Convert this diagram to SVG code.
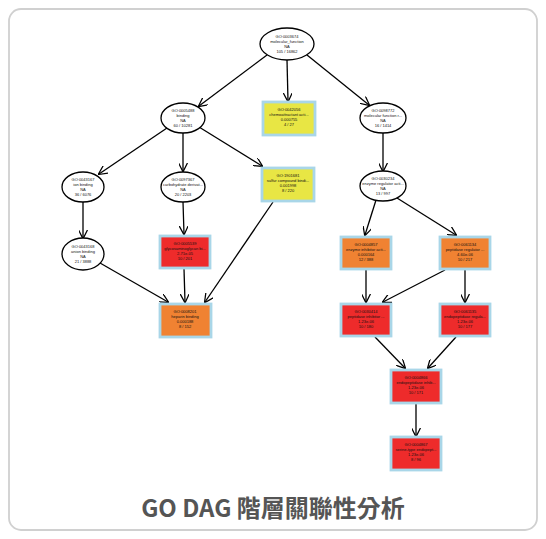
<svg xmlns="http://www.w3.org/2000/svg" width="546" height="539" viewBox="0 0 546 539">
<style>
.card{fill:#fff;stroke:#d0d0d0;stroke-width:1.8}
.ell{fill:#fff;stroke:#000;stroke-width:1.3}
.box{stroke:#a9d6e8;stroke-width:2.8}
.y{fill:#e8e644}
.o{fill:#f08232}
.r{fill:#ee2b2b}
.t{font-family:"Liberation Sans",Arial,sans-serif;font-size:4px;fill:#111;text-anchor:middle}
.e{stroke:#000;stroke-width:1.3;fill:none;marker-end:url(#ah)}
.title{font-family:"Noto Sans CJK TC","Noto Sans",sans-serif;font-size:24px;font-weight:bold;fill:#555;text-anchor:middle}
</style>
<defs>
<marker id="ah" viewBox="0 0 10 10" refX="9" refY="5" markerWidth="9" markerHeight="9" markerUnits="userSpaceOnUse" orient="auto">
<path d="M0,0 L10,5 L0,10" fill="none" stroke="#000" stroke-width="1.4"/>
</marker>
</defs>
<rect class="card" x="9" y="9" width="528" height="521" rx="12"/>
<g id="edges">
<line class="e" x1="267" y1="55" x2="199" y2="106"/>
<line class="e" x1="287" y1="60" x2="288" y2="101"/>
<line class="e" x1="307" y1="55" x2="369" y2="105"/>
<line class="e" x1="167" y1="128" x2="99" y2="174"/>
<line class="e" x1="183" y1="133" x2="183" y2="171"/>
<line class="e" x1="199" y1="127" x2="262" y2="166"/>
<line class="e" x1="383" y1="133" x2="383" y2="171"/>
<line class="e" x1="83" y1="202" x2="83" y2="238"/>
<line class="e" x1="183" y1="202" x2="184" y2="234"/>
<line class="e" x1="273" y1="202" x2="205" y2="302"/>
<line class="e" x1="376" y1="200" x2="365" y2="235"/>
<line class="e" x1="397" y1="198" x2="456" y2="235"/>
<line class="e" x1="100" y1="263" x2="168" y2="302"/>
<line class="e" x1="184" y1="269" x2="185" y2="302"/>
<line class="e" x1="366" y1="270" x2="366" y2="302"/>
<line class="e" x1="445" y1="270" x2="383" y2="302"/>
<line class="e" x1="465" y1="270" x2="465" y2="302"/>
<line class="e" x1="375" y1="337" x2="405" y2="368"/>
<line class="e" x1="456" y1="337" x2="428" y2="368"/>
<line class="e" x1="416" y1="403" x2="416" y2="436"/>
</g>
<g id="n_root"><ellipse class="ell" cx="287" cy="44" rx="27" ry="16"/>
<text class="t"><tspan x="287" y="38">GO:0003674</tspan><tspan x="287" y="43">molecular_function</tspan><tspan x="287" y="48">NA</tspan><tspan x="287" y="53">105 / 16862</tspan></text></g>
<g id="n_binding"><ellipse class="ell" cx="183" cy="118" rx="22" ry="15"/>
<text class="t"><tspan x="183" y="112">GO:0005488</tspan><tspan x="183" y="117">binding</tspan><tspan x="183" y="122">NA</tspan><tspan x="183" y="127">60 / 10281</tspan></text></g>
<g id="n_chemo"><rect class="box y" x="263" y="102" width="52" height="33"/>
<text class="t"><tspan x="289" y="111">GO:0042056</tspan><tspan x="289" y="116">chemoattractant acti...</tspan><tspan x="289" y="121">0.000755</tspan><tspan x="289" y="126">4 / 27</tspan></text></g>
<g id="n_mfr"><ellipse class="ell" cx="383" cy="118" rx="23" ry="15"/>
<text class="t"><tspan x="383" y="112">GO:0098772</tspan><tspan x="383" y="117">molecular function r...</tspan><tspan x="383" y="122">NA</tspan><tspan x="383" y="127">16 / 1414</tspan></text></g>
<g id="n_ion"><ellipse class="ell" cx="83" cy="187" rx="21" ry="15"/>
<text class="t"><tspan x="83" y="181">GO:0043167</tspan><tspan x="83" y="186">ion binding</tspan><tspan x="83" y="191">NA</tspan><tspan x="83" y="196">36 / 6076</tspan></text></g>
<g id="n_carb"><ellipse class="ell" cx="183" cy="187" rx="22" ry="15"/>
<text class="t"><tspan x="183" y="181">GO:0097367</tspan><tspan x="183" y="186">carbohydrate derivat...</tspan><tspan x="183" y="191">NA</tspan><tspan x="183" y="196">20 / 2203</tspan></text></g>
<g id="n_sulfur"><rect class="box y" x="262" y="168" width="52" height="33"/>
<text class="t"><tspan x="288" y="177">GO:1901681</tspan><tspan x="288" y="182">sulfur compound bindi...</tspan><tspan x="288" y="187">0.001998</tspan><tspan x="288" y="192">8 / 220</tspan></text></g>
<g id="n_enzreg"><ellipse class="ell" cx="383" cy="186" rx="23" ry="15"/>
<text class="t"><tspan x="383" y="180">GO:0030234</tspan><tspan x="383" y="185">enzyme regulator acti...</tspan><tspan x="383" y="190">NA</tspan><tspan x="383" y="195">13 / 997</tspan></text></g>
<g id="n_anion"><ellipse class="ell" cx="83" cy="254" rx="21" ry="16"/>
<text class="t"><tspan x="83" y="248">GO:0043168</tspan><tspan x="83" y="253">anion binding</tspan><tspan x="83" y="258">NA</tspan><tspan x="83" y="263">21 / 3888</tspan></text></g>
<g id="n_glyco"><rect class="box r" x="160" y="236" width="50" height="32"/>
<text class="t"><tspan x="185" y="245">GO:0005539</tspan><tspan x="185" y="250">glycosaminoglycan bi...</tspan><tspan x="185" y="255">2.71e-05</tspan><tspan x="185" y="260">10 / 201</tspan></text></g>
<g id="n_enzinh"><rect class="box o" x="341" y="237" width="50" height="32"/>
<text class="t"><tspan x="366" y="246">GO:0004857</tspan><tspan x="366" y="251">enzyme inhibitor acti...</tspan><tspan x="366" y="256">0.000164</tspan><tspan x="366" y="261">12 / 388</tspan></text></g>
<g id="n_peptreg"><rect class="box o" x="440" y="237" width="50" height="32"/>
<text class="t"><tspan x="465" y="246">GO:0061134</tspan><tspan x="465" y="251">peptidase regulator ...</tspan><tspan x="465" y="256">4.60e-06</tspan><tspan x="465" y="261">10 / 217</tspan></text></g>
<g id="n_heparin"><rect class="box o" x="160" y="304" width="51" height="33"/>
<text class="t"><tspan x="185" y="313">GO:0008201</tspan><tspan x="185" y="318">heparin binding</tspan><tspan x="185" y="323">0.000188</tspan><tspan x="185" y="328">8 / 152</tspan></text></g>
<g id="n_peptinh"><rect class="box r" x="341" y="304" width="50" height="32"/>
<text class="t"><tspan x="366" y="313">GO:0030414</tspan><tspan x="366" y="318">peptidase inhibitor ...</tspan><tspan x="366" y="323">1.23e-06</tspan><tspan x="366" y="328">10 / 180</tspan></text></g>
<g id="n_endopreg"><rect class="box r" x="440" y="304" width="50" height="32"/>
<text class="t"><tspan x="465" y="313">GO:0061135</tspan><tspan x="465" y="318">endopeptidase regula...</tspan><tspan x="465" y="323">1.23e-06</tspan><tspan x="465" y="328">10 / 177</tspan></text></g>
<g id="n_endopinh"><rect class="box r" x="391" y="370" width="50" height="33"/>
<text class="t"><tspan x="416" y="379">GO:0004866</tspan><tspan x="416" y="384">endopeptidase inhib...</tspan><tspan x="416" y="389">1.23e-06</tspan><tspan x="416" y="394">10 / 171</tspan></text></g>
<g id="n_serine"><rect class="box r" x="391" y="437" width="50" height="33"/>
<text class="t"><tspan x="416" y="446">GO:0004867</tspan><tspan x="416" y="451">serine-type endopept...</tspan><tspan x="416" y="456">1.23e-06</tspan><tspan x="416" y="461">8 / 96</tspan></text></g>
<text class="title" x="273" y="517">GO DAG 階層關聯性分析</text>
</svg>
